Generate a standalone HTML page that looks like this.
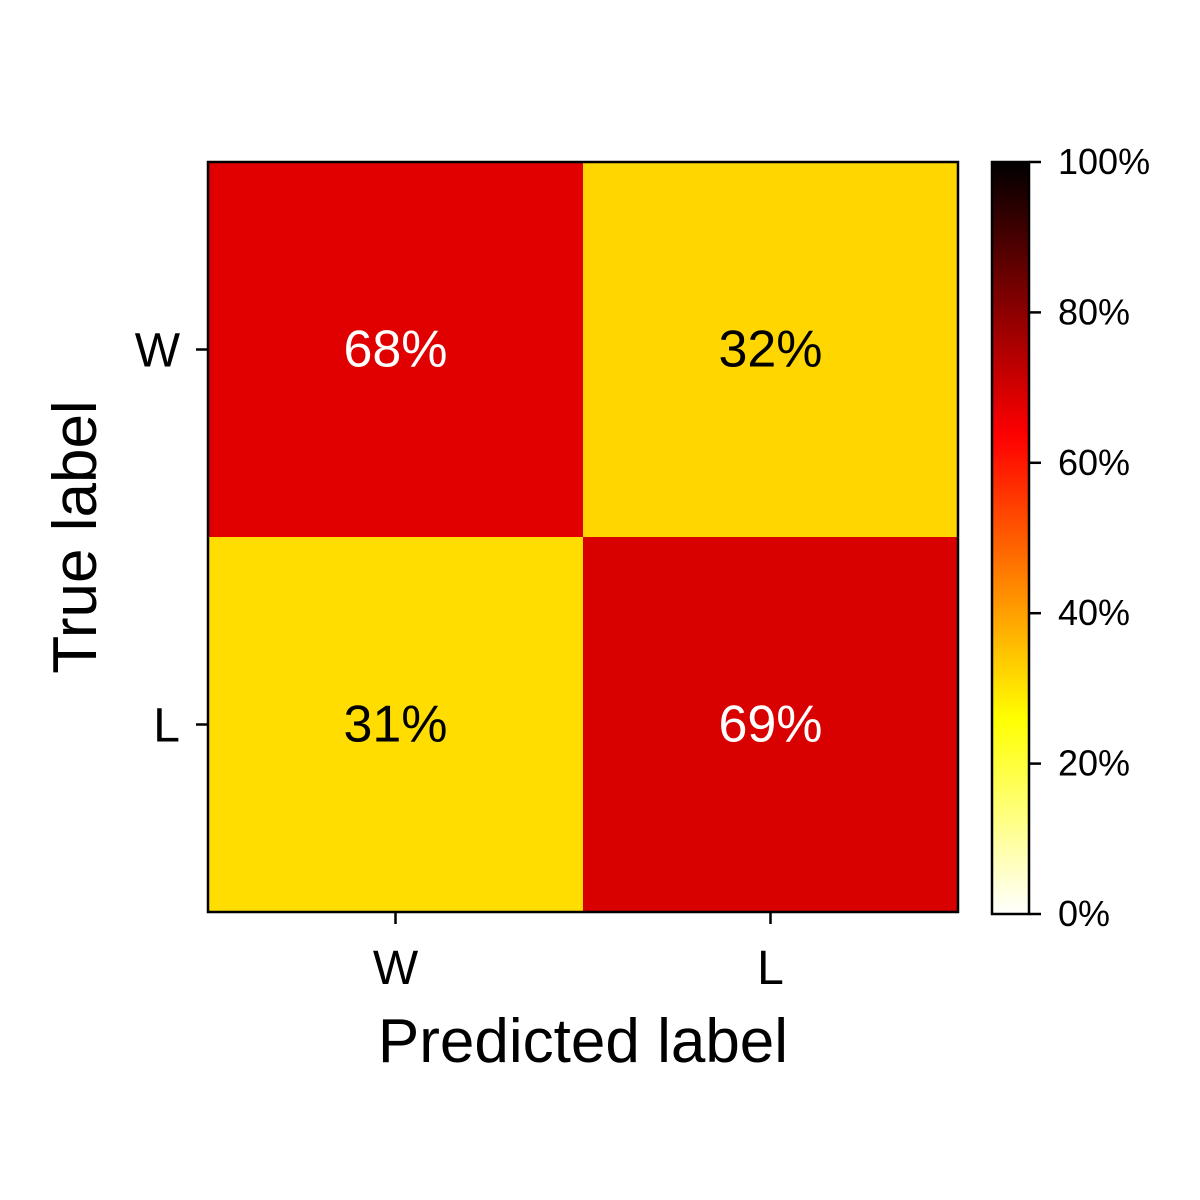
<!DOCTYPE html>
<html><head><meta charset="utf-8"><style>
html,body{margin:0;padding:0;background:#fff;}
svg{display:block;font-family:"Liberation Sans",sans-serif;}
</style></head><body>
<svg id="chart" width="1200" height="1200" viewBox="0 0 1200 1200">
<defs><linearGradient id="cbgrad" x1="0" y1="1" x2="0" y2="0"></linearGradient></defs>
<rect x="0" y="0" width="1200" height="1200" fill="#fff"/>
<g id="cells"></g>
<rect x="208" y="162" width="750" height="750" fill="none" stroke="#000" stroke-width="2.5"/>
<g id="axes"></g>
<text x="583" y="1062" font-size="62" text-anchor="middle">Predicted label</text>
<text transform="translate(96,537) rotate(-90)" font-size="62" text-anchor="middle">True label</text>
<rect x="992" y="162" width="37" height="752" fill="url(#cbgrad)"/>
<rect x="992" y="162" width="37" height="752" fill="none" stroke="#000" stroke-width="2.5"/>
<g id="cbticks"></g>
</svg>
<script>
const classes = ["W","L"];
const values = [[0.68,0.32],[0.31,0.69]];
const cbTicks = [0,0.2,0.4,0.6,0.8,1.0];
const cbTickLabels = ["0%","20%","40%","60%","80%","100%"];

const NS="http://www.w3.org/2000/svg";
const X0=208,Y0=162,SIZE=750,n=classes.length,cw=SIZE/n;
const CB_TOP=162,CB_BOT=914;
function hotR(v){const x=1-v;
 const r=Math.min(1,x/0.365),g=Math.max(0,Math.min(1,(x-0.365)/0.375)),b=Math.max(0,Math.min(1,(x-0.74)/0.26));
 return `rgb(${Math.round(r*255)},${Math.round(g*255)},${Math.round(b*255)})`;}
function xPos(i){return X0+cw*(i+0.5);}
function yPos(i){return Y0+cw*(i+0.5);}
function cbY(v){return CB_BOT-(CB_BOT-CB_TOP)*v;}
function mk(tag,attrs,parent){const e=document.createElementNS(NS,tag);for(const k in attrs)e.setAttribute(k,attrs[k]);parent.appendChild(e);return e;}

const cells=document.getElementById('cells');
for(let r=0;r<n;r++)for(let c=0;c<n;c++){
 const v=values[r][c];
 const rect=mk('rect',{x:X0+c*cw,y:Y0+r*cw,width:cw,height:cw,fill:hotR(v)},cells);
 
 
 const t=mk('text',{x:xPos(c),y:yPos(r)+17,'font-size':52,'text-anchor':'middle',fill:v>0.5?'#fff':'#000'},cells);
 t.textContent=Math.round(v*100)+'%';
 
 
}
const axes=document.getElementById('axes');
classes.forEach((c,i)=>{
 const tx=mk('line',{x1:xPos(i),x2:xPos(i),y1:912,y2:924,stroke:'#000','stroke-width':2.5},axes);
 
 
 const lx=mk('text',{x:xPos(i),y:984,'font-size':48,'text-anchor':'middle'},axes);lx.textContent=c;
 
 
 const ty=mk('line',{x1:196,x2:208,y1:yPos(i),y2:yPos(i),stroke:'#000','stroke-width':2.5},axes);
 
 
 const ly=mk('text',{x:180,y:yPos(i)+17,'font-size':48,'text-anchor':'end'},axes);ly.textContent=c;
 
 
});
const grad=document.getElementById('cbgrad');
for(let k=0;k<=50;k++){const v=k/50;mk('stop',{offset:v,'stop-color':hotR(v)},grad);}
const cbt=document.getElementById('cbticks');
cbTicks.forEach((v,i)=>{
 const l=mk('line',{x1:1029,x2:1041,y1:cbY(v),y2:cbY(v),stroke:'#000','stroke-width':2.5},cbt);
 
 
 const t=mk('text',{x:1058,y:cbY(v)+12,'font-size':36},cbt);t.textContent=cbTickLabels[i];
 
 
});
</script>
</body></html>
